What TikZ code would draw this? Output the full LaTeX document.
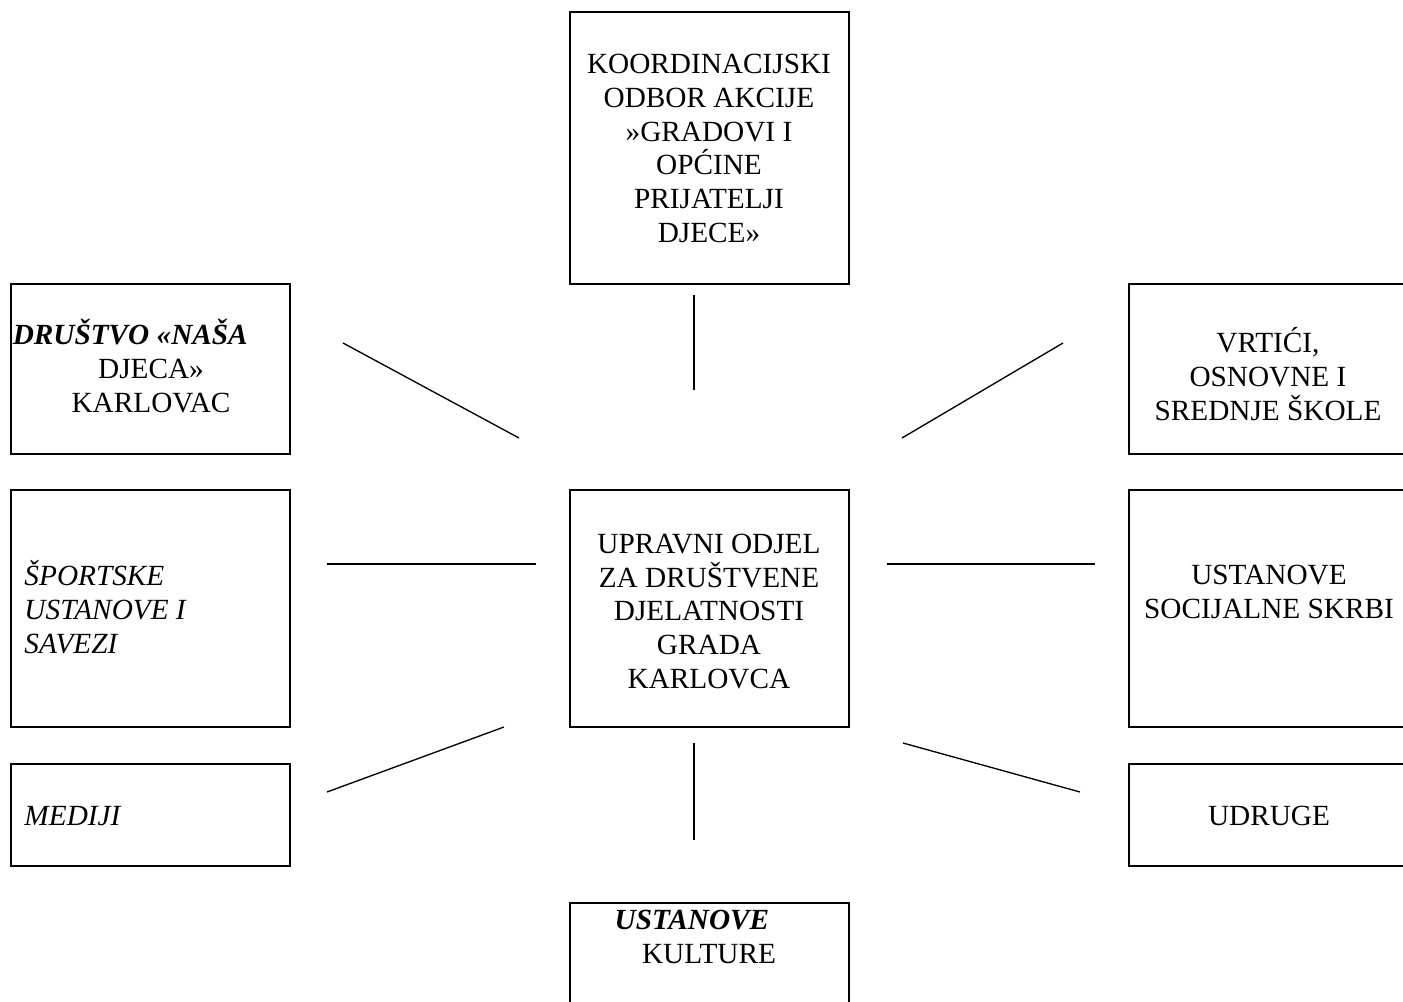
\documentclass[tikz,border=0pt]{standalone}
\usepackage{fontspec}
\setmainfont{Liberation Serif}
\newcommand{\px}{0.41pt}

\begin{document}
\begin{tikzpicture}[x=\px, y=-\px,
  box/.style={draw, line width=0.9pt, inner sep=0pt, minimum width=279*\px},
  txt/.style={inner sep=0pt, align=center, anchor=base, font=\fontsize{12pt}{13.8pt}\selectfont},
  ital/.style={font=\fontsize{12pt}{13.8pt}\selectfont\itshape},
  link/.style={line width=0.55pt}]

\useasboundingbox (0,0) rectangle (1403,1002);
\clip (0,0) rectangle (1403,1002);

\node[box, minimum height=272*\px] (odbor) at (709.5,148) {};

\node[box, minimum height=170*\px] (drustvo) at (150.5,369) {};
\node[box, minimum height=170*\px] (vrtici) at (1268.5,369) {};

\node[box, minimum height=237*\px] (sport) at (150.5,608.5) {};
\node[box, minimum height=237*\px] (upravni) at (709.5,608.5) {};
\node[box, minimum height=237*\px] (socijal) at (1268.5,608.5) {};

\node[box, minimum height=102*\px] (mediji) at (150.5,815) {};
\node[box, minimum height=102*\px] (udruge) at (1268.5,815) {};

\node[box, minimum height=137*\px] (kultura) at (709.5,971.5) {};

% texts, placed by the baseline of their last line
\node[txt] (odbor-t) at (709,242) {KOORDINACIJSKI\\ODBOR AKCIJE\\»GRADOVI I\\OPĆINE\\PRIJATELJI\\DJECE»};
\node[txt] (drustvo-t) at (151,412) {\textbf{\textit{DRUŠTVO «NAŠA}}\hspace*{17pt}\\DJECA»\\KARLOVAC};
\node[txt] (vrtici-t) at (1268,420) {VRTIĆI,\\OSNOVNE I\\SREDNJE ŠKOLE};
\node[txt, ital, align=left, anchor=base west] (sport-t) at (24,653) {ŠPORTSKE\\USTANOVE I\\SAVEZI};
\node[txt] (upravni-t) at (709,688) {UPRAVNI ODJEL\\ZA DRUŠTVENE\\DJELATNOSTI\\GRADA\\KARLOVCA};
\node[txt] (socijal-t) at (1269,618) {USTANOVE\\SOCIJALNE SKRBI};
\node[txt, ital, anchor=base west] (mediji-t) at (24,825) {MEDIJI};
\node[txt] (udruge-t) at (1269,825) {UDRUGE};
\node[txt] (kultura-t) at (709,963) {\textbf{\textit{USTANOVE}}\hspace*{14pt}\\KULTURE};

\coordinate (n1) at (694,295);
\coordinate (n2) at (694,390);
\coordinate (nw1) at (343,343);
\coordinate (nw2) at (519,438);
\coordinate (ne1) at (1063,343);
\coordinate (ne2) at (902,438);
\coordinate (w1) at (327,564);
\coordinate (w2) at (536,564);
\coordinate (e1) at (887,564);
\coordinate (e2) at (1095,564);
\coordinate (sw1) at (327,792);
\coordinate (sw2) at (504,727);
\coordinate (se1) at (903,743);
\coordinate (se2) at (1080,792);
\coordinate (s1) at (694,743);
\coordinate (s2) at (694,840);

\draw[link] (n1) -- (n2);
\draw[link] (nw1) -- (nw2);
\draw[link] (ne1) -- (ne2);
\draw[link] (w1) -- (w2);
\draw[link] (e1) -- (e2);
\draw[link] (sw1) -- (sw2);
\draw[link] (se1) -- (se2);
\draw[link] (s1) -- (s2);

\end{tikzpicture}
\end{document}
